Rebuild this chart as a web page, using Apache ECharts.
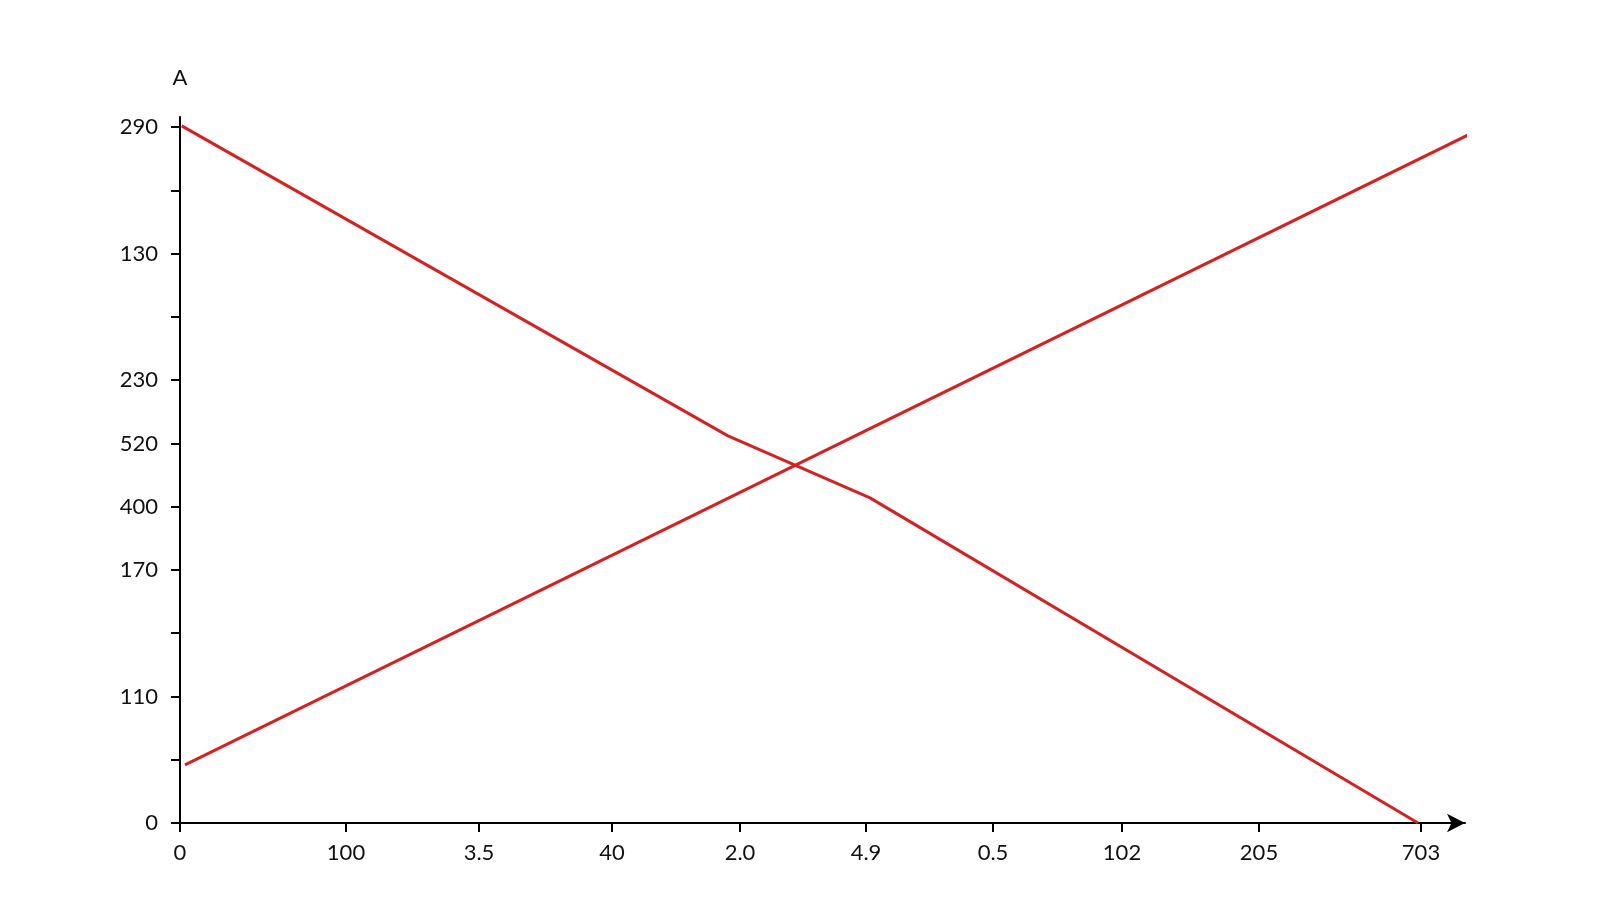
<!DOCTYPE html>
<html>
<head>
<meta charset="utf-8">
<script src="https://cdn.jsdelivr.net/npm/echarts@6/dist/echarts.min.js"></script>
<style>
  html, body { margin: 0; padding: 0; background: #fff; }
  #main { width: 1600px; height: 900px; }
</style>
</head>
<body>
<div id="main"></div>
<script>
// x axis: tick places and the labels written under them
var xTickVals = [0, 16.6, 29.9, 43.2, 56.0, 68.6, 81.3, 94.2, 107.9, 124.1];
var xTickLabels = ['0', '100', '3.5', '40', '2.0', '4.9', '0.5', '102', '205', '703'];

// y axis: one tick per step, only some of them carry a label
var yTickVals = [0, 1, 2, 3, 4, 5, 6, 7, 8, 9, 10, 11];
var yTickLabels = ['0', '', '110', '', '170', '400', '520', '230', '', '130', '', '290'];

// the two red lines
var fallingLine = [[0.17, 11.02], [54.8, 6.12], [69.0, 5.14], [123.8, 0]];
var risingLine = [[0.5, 0.92], [130.8, 11.03]];

var chart = echarts.init(document.getElementById('main'));

var labelFont = {
  color: '#111',
  fontSize: 22,
  fontFamily: 'Lato, "Open Sans", sans-serif'
};

var option = {
  backgroundColor: '#FFFFFF',
  animation: false,
  grid: {
    left: 180,
    right: 135,
    top: 117,
    bottom: 77
  },
  xAxis: {
    type: 'value',
    min: 0,
    max: 128.5,
    splitLine: { show: false },
    axisLine: {
      show: true,
      symbol: ['none', 'arrow'],
      symbolSize: [14, 18],
      lineStyle: { color: '#000', width: 2 }
    },
    axisTick: {
      show: true,
      length: 9,
      customValues: xTickVals,
      lineStyle: { color: '#000', width: 2 }
    },
    axisLabel: Object.assign({
      margin: 19,
      customValues: xTickVals,
      formatter: function (v) {
        var i = xTickVals.indexOf(v);
        return i >= 0 ? xTickLabels[i] : '';
      }
    }, labelFont)
  },
  yAxis: {
    type: 'value',
    min: 0,
    max: 11.16,
    name: 'A',
    nameLocation: 'end',
    nameGap: 28,
    nameTextStyle: Object.assign({ align: 'center' }, labelFont),
    splitLine: { show: false },
    axisLine: {
      show: true,
      lineStyle: { color: '#000', width: 2 }
    },
    axisTick: {
      show: true,
      length: 9,
      customValues: yTickVals,
      lineStyle: { color: '#000', width: 2 }
    },
    axisLabel: Object.assign({
      margin: 22,
      customValues: yTickVals,
      formatter: function (v) {
        var i = yTickVals.indexOf(v);
        return i >= 0 ? yTickLabels[i] : '';
      }
    }, labelFont)
  },
  series: [
    {
      type: 'line',
      data: fallingLine,
      symbol: 'none',
      clip: false,
      lineStyle: { color: '#d42222', width: 3 }
    },
    {
      type: 'line',
      data: risingLine,
      symbol: 'none',
      clip: false,
      lineStyle: { color: '#d42222', width: 3 }
    }
  ]
};
chart.setOption(option);
</script>
</body>
</html>
